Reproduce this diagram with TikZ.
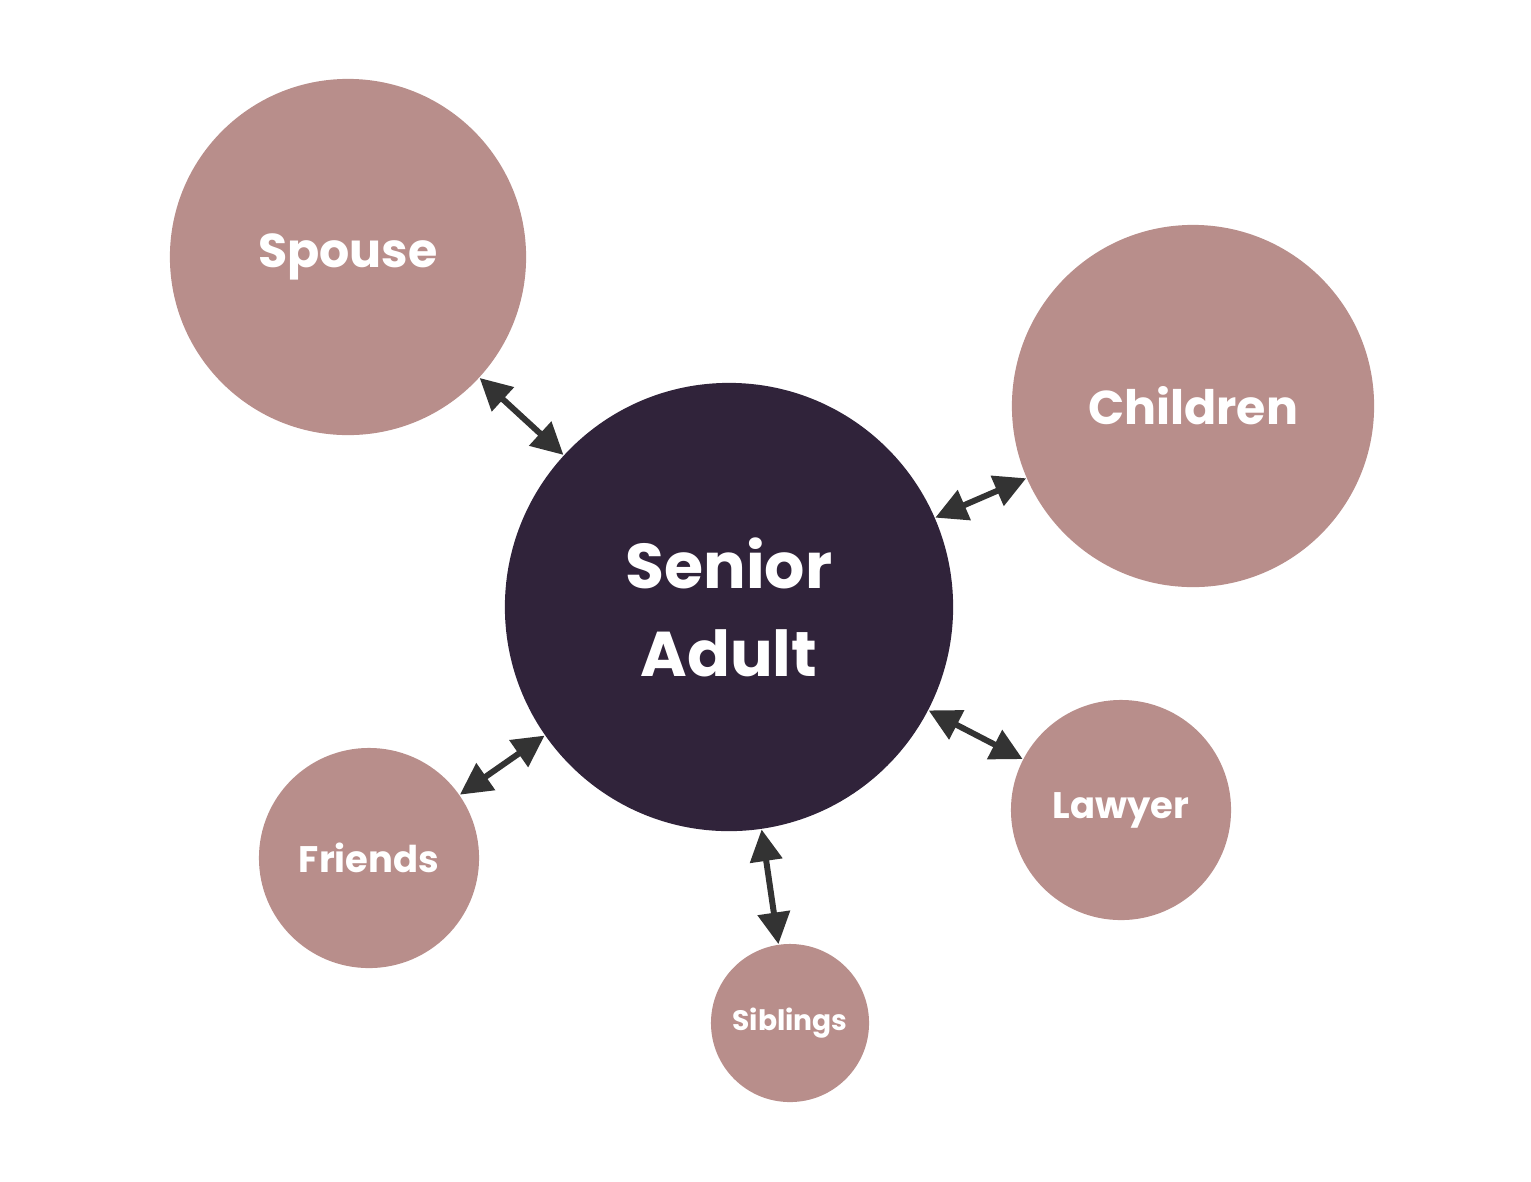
\documentclass[tikz,border=0pt]{standalone}
\usepackage{fontspec}
\setmainfont{Poppins}
\usetikzlibrary{arrows.meta}

\tikzset{
  person/.style={circle, draw=none, fill=rosy, text=white, inner sep=0pt, font=\bfseries},
  link/.style={line width=1.7pt, draw=arrowgray, {Triangle[length=9pt,width=9pt]}-{Triangle[length=9pt,width=9pt]}}
}
\definecolor{rosy}{HTML}{B88E8B}
\definecolor{night}{HTML}{30233A}
\definecolor{arrowgray}{HTML}{333333}

\begin{document}
\begin{tikzpicture}[x=0.01cm, y=-0.01cm]
   \useasboundingbox (0,0) rectangle (1531,1181);
   \node[person, fill=night, minimum size=4.48cm, font=\bfseries\fontsize{18}{25}\selectfont,
         align=center] (senior) at (729,607) {Senior\\Adult};
   \node[person, minimum size=3.56cm, font=\bfseries\fontsize{13.5}{16}\selectfont] (spouse) at (348,257) {Spouse};
   \node[person, minimum size=3.62cm, font=\bfseries\fontsize{13.5}{16}\selectfont] (children) at (1193,406) {Children};
   \node[person, minimum size=2.2cm, font=\bfseries\fontsize{10.5}{12}\selectfont] (lawyer) at (1121,810) {Lawyer};
   \node[person, minimum size=2.2cm, font=\bfseries\fontsize{10.5}{12}\selectfont] (friends) at (369,858) {Friends};
   \node[person, minimum size=1.58cm, font=\bfseries\fontsize{8}{10}\selectfont] (siblings) at (790,1023) {Siblings};
   % connect the senior adult with everyone
   \draw[link] (spouse) -- (senior);
   \draw[link] (children) -- (senior);
   \draw[link] (lawyer) -- (senior);
   \draw[link] (friends) -- (senior);
   \draw[link] (siblings) -- (senior);
\end{tikzpicture}
\end{document}
